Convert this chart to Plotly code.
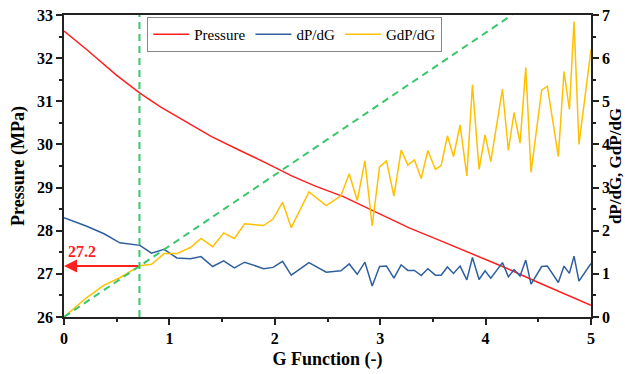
import plotly.graph_objects as go

# ---------------- data ----------------
g_deriv = [0, 0.21, 0.38, 0.53, 0.72, 0.83, 0.95, 1.07, 1.20, 1.30, 1.41, 1.515, 1.616, 1.714,
           1.894, 1.983, 2.074, 2.156, 2.324, 2.488, 2.627, 2.706, 2.782, 2.855, 2.924, 2.994,
           3.060, 3.130, 3.199, 3.262, 3.325, 3.389, 3.452, 3.524, 3.578, 3.638, 3.695, 3.758,
           3.822, 3.875, 3.938, 3.995, 4.049, 4.160, 4.216, 4.270, 4.327, 4.381, 4.431, 4.532,
           4.586, 4.690, 4.744, 4.795, 4.839, 4.886, 5.0]

dpdg = [2.30, 2.11, 1.93, 1.72, 1.66, 1.48, 1.57, 1.37, 1.35, 1.40, 1.17, 1.30, 1.14, 1.27,
        1.12, 1.15, 1.29, 0.97, 1.26, 1.04, 1.07, 1.23, 0.99, 1.27, 0.72, 1.17,
        1.18, 0.90, 1.21, 1.08, 1.08, 0.96, 1.12, 0.97, 0.97, 1.16, 1.01, 1.18,
        0.86, 1.38, 0.87, 1.07, 0.90, 1.26, 0.93, 1.10, 0.95, 1.32, 0.76, 1.17,
        1.18, 0.80, 1.18, 1.01, 1.41, 0.83, 1.24]

gdpdg = [0.0, 0.44, 0.74, 0.91, 1.19, 1.22, 1.47, 1.47, 1.61, 1.82, 1.63, 1.95, 1.82, 2.16,
         2.12, 2.27, 2.66, 2.07, 2.90, 2.58, 2.81, 3.32, 2.70, 3.62, 2.11, 3.48,
         3.62, 2.80, 3.87, 3.52, 3.64, 3.21, 3.86, 3.42, 3.51, 4.20, 3.72, 4.45,
         3.27, 5.38, 3.42, 4.22, 3.60, 5.28, 3.86, 4.74, 4.03, 5.78, 3.35, 5.26,
         5.35, 3.72, 5.69, 4.81, 6.85, 4.00, 6.20]

g_pressure = [0, 0.22, 0.50, 0.72, 0.915, 1.15, 1.40, 1.66, 1.91, 2.16, 2.38, 2.65, 2.97,
              3.28, 3.57, 3.90, 4.20, 4.50, 4.85, 5.0]
pressure = [32.63, 32.19, 31.60, 31.19, 30.87, 30.53, 30.18, 29.87, 29.58, 29.27, 29.04,
            28.79, 28.42, 28.06, 27.77, 27.43, 27.13, 26.80, 26.43, 26.27]

tangent_g = [0, 4.25]
tangent_v = [0, 7]
closure_g = 0.716
closure_p = 27.18
closure_label = "27.2"

# ---------------- styling ----------------
RED = "#FF1F1F"
BLUE = "#2F5F9F"
YELLOW = "#FFC000"
GREEN = "#38C76A"
AX = "#222222"
FONT = "Liberation Serif, Times New Roman, Times, serif"
TICKFONT = dict(family=FONT, size=16, color="black", weight="bold")

fig = go.Figure()

fig.add_trace(go.Scatter(x=g_pressure, y=pressure, mode="lines", name="Pressure",
                         line=dict(color=RED, width=1.5), yaxis="y"))
fig.add_trace(go.Scatter(x=g_deriv, y=dpdg, mode="lines", name="dP/dG",
                         line=dict(color=BLUE, width=1.5), yaxis="y2"))
fig.add_trace(go.Scatter(x=g_deriv, y=gdpdg, mode="lines", name="GdP/dG",
                         line=dict(color=YELLOW, width=1.5), yaxis="y2"))
fig.add_trace(go.Scatter(x=tangent_g, y=tangent_v, mode="lines", showlegend=False,
                         line=dict(color=GREEN, width=2, dash="7px,5px"), yaxis="y2"))
fig.add_trace(go.Scatter(x=[closure_g, closure_g], y=[0, 7], mode="lines", showlegend=False,
                         line=dict(color=GREEN, width=2, dash="7px,5px"), yaxis="y2"))

fig.add_annotation(x=0, y=closure_p, ax=closure_g, ay=closure_p,
                   xref="x", yref="y", axref="x", ayref="y",
                   showarrow=True, arrowhead=2, arrowsize=1.3, arrowwidth=2,
                   arrowcolor=RED, text="")
fig.add_annotation(x=0.17, y=27.51, xref="x", yref="y", text="<b>" + closure_label + "</b>",
                   showarrow=False, font=dict(family=FONT, size=16, color=RED))

fig.update_layout(
    template="none",
    width=625, height=374,
    margin=dict(l=64, r=34, t=15, b=57, autoexpand=False),
    paper_bgcolor="white", plot_bgcolor="white",
    font=dict(family=FONT, color="black"),
    showlegend=True,
    legend=dict(orientation="h", x=0.158, y=0.993, xanchor="left", yanchor="top",
                bgcolor="white", bordercolor="#888888", borderwidth=1,
                font=dict(family=FONT, size=15, color="black"),
                itemwidth=36, tracegroupgap=0),
    xaxis=dict(range=[0, 5], dtick=1, tick0=0, showgrid=False, zeroline=False,
               automargin=False,
               showline=True, linecolor=AX, linewidth=1.5, mirror=True,
               ticks="outside", ticklen=6, tickwidth=1.5, tickcolor=AX,
               minor=dict(dtick=0.5, ticks="outside", ticklen=3, tickwidth=1.5, tickcolor=AX,
                          showgrid=False),
               tickfont=TICKFONT,
               ticklabelstandoff=0,
               title=dict(text="<b>G Function (-)</b>", standoff=6,
                          font=dict(family=FONT, size=18, color="black"))),
    yaxis=dict(range=[26, 33], dtick=1, showgrid=False, zeroline=False,
               automargin=False,
               showline=True, linecolor=AX, linewidth=1.5,
               ticks="outside", ticklen=6, tickwidth=1.5, tickcolor=AX,
               minor=dict(dtick=0.5, ticks="outside", ticklen=3, tickwidth=1.5, tickcolor=AX,
                          showgrid=False),
               tickfont=TICKFONT,
               tickformat="d",
               title=dict(text="<b>Pressure (MPa)</b>", standoff=8,
                          font=dict(family=FONT, size=18, color="black"))),
    yaxis2=dict(range=[0, 7], dtick=1, overlaying="y", side="right", showgrid=False,
                zeroline=False, showline=True, linecolor=AX, linewidth=1.5,
                automargin=False,
                ticks="outside", ticklen=6, tickwidth=1.5, tickcolor=AX,
                minor=dict(dtick=0.5, ticks="outside", ticklen=3, tickwidth=1.5, tickcolor=AX,
                           showgrid=False),
                tickfont=TICKFONT,
                title=dict(text="<b>dP/dG, GdP/dG</b>", standoff=3,
                           font=dict(family=FONT, size=17, color="black"))),
)

fig.write_html("out.html")
